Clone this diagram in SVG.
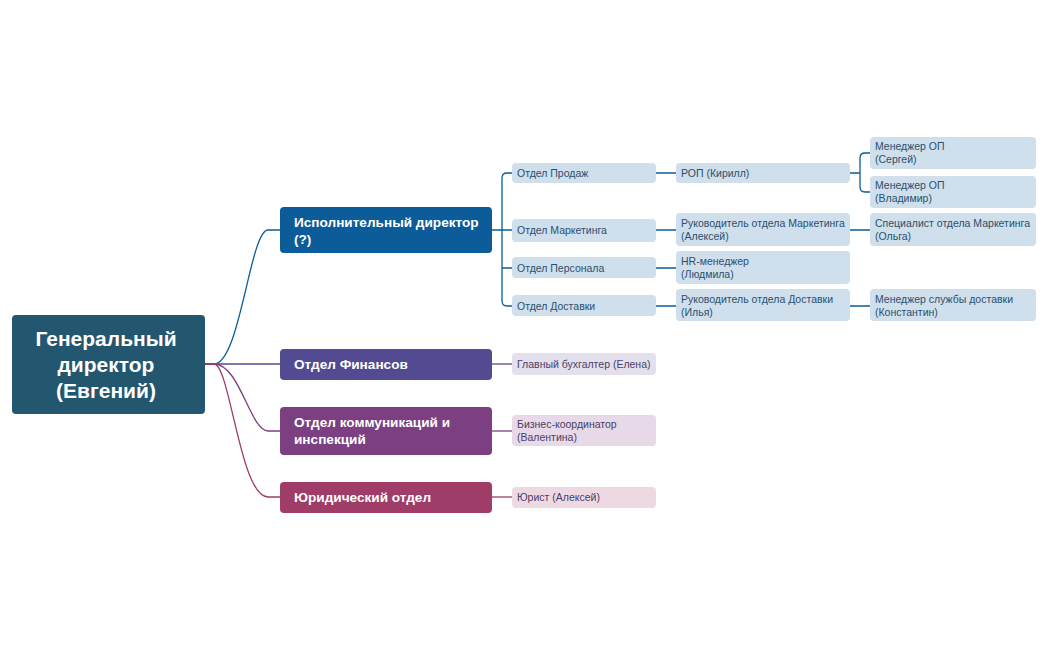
<svg xmlns="http://www.w3.org/2000/svg" width="1049" height="650" viewBox="0 0 1049 650">
<style>
text{font-family:"Liberation Sans",Arial,sans-serif}
.w{fill:#fff;font-weight:bold;font-size:13.6px}
.s{font-size:10.5px;fill:#2c4f6e}
.p{font-size:10.5px;fill:#4a3f66}
.c{fill:none;stroke-width:1.3}
</style>
<rect width="1049" height="650" fill="#fff"/>
<g id="connectors">
<path class="c" stroke="#0b5c99" d="M205,364 H214 C240,364 250,230 268,230 H280"/>
<path class="c" stroke="#524b91" d="M205,364 H280"/>
<path class="c" stroke="#7b3f82" d="M205,364 H214 C240,364 250,431 268,431 H280"/>
<path class="c" stroke="#a03c68" d="M205,364 H214 C230,364 240,497 268,497 H280"/>
<path class="c" stroke="#0b5c99" d="M492,230 H502 M512,173 H507 Q502,173 502,178 V301 Q502,306 507,306 H512 M502,230 H512 M502,268 H512"/>
<path class="c" stroke="#0b5c99" d="M656,173 H676 M656,230 H676 M656,268 H676 M656,306 H676 M850,230 H870 M850,306 H870 M850,173 H860 M870,153 H865 Q860,153 860,158 V187 Q860,192 865,192 H870"/>
<path class="c" stroke="#524b91" d="M492,364 H512"/>
<path class="c" stroke="#7b3f82" d="M492,431 H512"/>
<path class="c" stroke="#a03c68" d="M492,497 H512"/>
</g>
<g id="root"><rect x="12" y="315" width="193" height="99" rx="4" fill="#23566f"/>
<text x="106" y="346" text-anchor="middle" fill="#fff" font-weight="bold" font-size="21">Генеральный</text>
<text x="106" y="372" text-anchor="middle" fill="#fff" font-weight="bold" font-size="21">директор</text>
<text x="106" y="398" text-anchor="middle" fill="#fff" font-weight="bold" font-size="21">(Евгений)</text></g>
<g id="exec"><rect x="280" y="207" width="212" height="46" rx="4" fill="#0b5c99"/><text class="w" x="294" y="227">Исполнительный директор</text><text class="w" x="294" y="244">(?)</text></g>
<g id="fin"><rect x="280" y="349" width="212" height="31" rx="4" fill="#524b91"/><text class="w" x="294" y="369">Отдел Финансов</text></g>
<g id="comm"><rect x="280" y="407" width="212" height="48" rx="4" fill="#7b3f82"/><text class="w" x="294" y="427">Отдел коммуникаций и</text><text class="w" x="294" y="444">инспекций</text></g>
<g id="legal"><rect x="280" y="482" width="212" height="31" rx="4" fill="#a03c68"/><text class="w" x="294" y="502">Юридический отдел</text></g>
<g id="sales"><rect x="512" y="163" width="144" height="20" rx="4" fill="#cfdfeb"/><text class="s" x="517" y="177">Отдел Продаж</text></g>
<g id="mkt"><rect x="512" y="219" width="144" height="23" rx="4" fill="#cfdfeb"/><text class="s" x="517" y="234">Отдел Маркетинга</text></g>
<g id="hr"><rect x="512" y="257" width="144" height="21" rx="4" fill="#cfdfeb"/><text class="s" x="517" y="272">Отдел Персонала</text></g>
<g id="dlv"><rect x="512" y="295" width="144" height="21" rx="4" fill="#cfdfeb"/><text class="s" x="517" y="310">Отдел Доставки</text></g>
<g id="acc"><rect x="512" y="353" width="144" height="22" rx="4" fill="#e3dfec"/><text class="p" x="517" y="368">Главный бухгалтер (Елена)</text></g>
<g id="biz"><rect x="512" y="415" width="144" height="31" rx="4" fill="#e7d9e8"/><text class="p" x="517" y="428">Бизнес-координатор</text><text class="p" x="517" y="441">(Валентина)</text></g>
<g id="law"><rect x="512" y="487" width="144" height="21" rx="4" fill="#eed9e2"/><text class="p" x="517" y="501">Юрист (Алексей)</text></g>
<g id="rop"><rect x="676" y="163" width="174" height="20" rx="4" fill="#cfdfeb"/><text class="s" x="681" y="177">РОП (Кирилл)</text></g>
<g id="mktlead"><rect x="676" y="213" width="174" height="33" rx="4" fill="#cfdfeb"/><text class="s" x="681" y="227">Руководитель отдела Маркетинга</text><text class="s" x="681" y="240">(Алексей)</text></g>
<g id="hrm"><rect x="676" y="251" width="174" height="33" rx="4" fill="#cfdfeb"/><text class="s" x="681" y="265">HR-менеджер</text><text class="s" x="681" y="278">(Людмила)</text></g>
<g id="dlvlead"><rect x="676" y="289" width="174" height="32" rx="4" fill="#cfdfeb"/><text class="s" x="681" y="303">Руководитель отдела Доставки</text><text class="s" x="681" y="316">(Илья)</text></g>
<g id="m1"><rect x="870" y="137" width="166" height="32" rx="4" fill="#cfdfeb"/><text class="s" x="875" y="150">Менеджер ОП</text><text class="s" x="875" y="163">(Сергей)</text></g>
<g id="m2"><rect x="870" y="176" width="166" height="32" rx="4" fill="#cfdfeb"/><text class="s" x="875" y="189">Менеджер ОП</text><text class="s" x="875" y="202">(Владимир)</text></g>
<g id="spec"><rect x="870" y="213" width="166" height="33" rx="4" fill="#cfdfeb"/><text class="s" x="875" y="227">Специалист отдела Маркетинга</text><text class="s" x="875" y="240">(Ольга)</text></g>
<g id="dm"><rect x="870" y="289" width="166" height="32" rx="4" fill="#cfdfeb"/><text class="s" x="875" y="303">Менеджер службы доставки</text><text class="s" x="875" y="316">(Константин)</text></g>
</svg>
